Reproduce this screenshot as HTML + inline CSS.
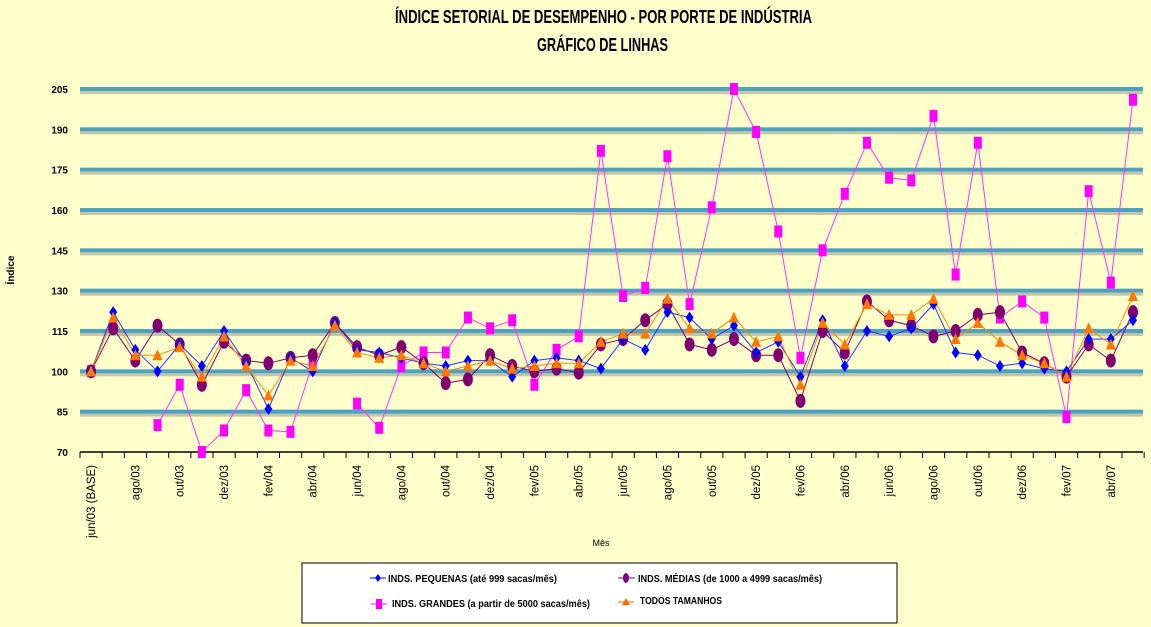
<!DOCTYPE html>
<html><head><meta charset="utf-8"><style>
body{margin:0;background:#FFFFCC;}
svg{display:block}
text{font-family:"Liberation Sans",sans-serif}
</style></head><body>
<svg id="s" width="1151" height="627" xmlns="http://www.w3.org/2000/svg">
<rect width="1151" height="627" fill="#FFFFCC"/>
<text x="395" y="23" font-size="18" font-weight="bold" textLength="417" lengthAdjust="spacingAndGlyphs">ÍNDICE SETORIAL DE DESEMPENHO - POR PORTE DE INDÚSTRIA</text>
<text x="537" y="51" font-size="18" font-weight="bold" textLength="131" lengthAdjust="spacingAndGlyphs">GRÁFICO DE LINHAS</text>
<text transform="translate(14,270) rotate(-90)" text-anchor="middle" font-size="10" font-weight="bold">Índice</text>
<text x="601" y="546" text-anchor="middle" font-size="9">Mês</text>
<g id="g"></g>
<rect x="302" y="563" width="595" height="60" fill="#fff" stroke="#000" stroke-width="1"/>
<line x1="370" y1="578" x2="386" y2="578" stroke="#0000ff"/><path d="M378 574 L381 578 L378 582 L375 578Z" fill="#0000ff"/>
<text x="388" y="582" font-size="10" font-weight="bold" textLength="169" lengthAdjust="spacingAndGlyphs">INDS. PEQUENAS (até 999 sacas/mês)</text>
<line x1="618" y1="578" x2="635" y2="578" stroke="#800080"/><ellipse cx="626" cy="578" rx="3" ry="5" fill="#800080"/>
<text x="638" y="582" font-size="10" font-weight="bold" textLength="184" lengthAdjust="spacingAndGlyphs">INDS. MÉDIAS (de 1000 a 4999 sacas/mês)</text>
<line x1="371" y1="604" x2="387" y2="604" stroke="#ff00ff"/><rect x="376" y="599" width="6" height="10" fill="#ff00ff"/>
<text x="392" y="607" font-size="10" font-weight="bold" textLength="198" lengthAdjust="spacingAndGlyphs">INDS. GRANDES (a partir de 5000 sacas/mês)</text>
<line x1="618" y1="602" x2="634" y2="602" stroke="#ff6600"/><path d="M626 598 L630 605 L622 605Z" fill="#ff6600"/>
<text x="640" y="604" font-size="10" font-weight="bold" textLength="82" lengthAdjust="spacingAndGlyphs">TODOS TAMANHOS</text>
</svg>
<script>
const ns="http://www.w3.org/2000/svg",g=document.getElementById('g');
function el(t,a){const e=document.createElementNS(ns,t);for(const k in a)e.setAttribute(k,a[k]);g.appendChild(e);return e;}
const Y=v=>452-(v-70)*2.689, X=i=>91+i*22.17;
for(let v=85;v<=205;v+=15){const y=Y(v);
 el('rect',{x:80,y:y+2,width:1063,height:3,fill:'#b8b89a',opacity:.8});
 el('rect',{x:80,y:y-2,width:1063,height:4,fill:'#4BA3C3'});}
for(let v=70;v<=205;v+=15){const t=el('text',{x:68,y:Y(v)+4,'text-anchor':'end','font-size':10,'font-weight':'bold'});t.textContent=v;}
el('line',{x1:80,y1:452,x2:1143,y2:452,stroke:'#000','stroke-width':1.5});
for(let i=0;i<=48;i++){const x=80+i*22.17;el('line',{x1:x,y1:452,x2:x,y2:458,stroke:'#000'});}
const mon=['jun','jul','ago','set','out','nov','dez','jan','fev','mar','abr','mai'];
for(let i=0;i<48;i+=2){let m=mon[i%12],yr=String(3+Math.floor((i+5)/12)).padStart(2,'0');
 let s=i==0?'jun/03 (BASE)':m+'/'+yr;const t=el('text',{transform:`translate(${X(i)+4},${465}) rotate(-90)`,'text-anchor':'end','font-size':11.5});t.textContent=s;}
const P=[100,122,108,100,110,102,115,103,86,105,100,118,108,107,105,103,102,104,104,98,104,105,104,101,112,108,122,120,112,117,107,111,98,119,102,115,113,116,125,107,106,102,103,101,100,112,112,119];
const M=[100,116,104,117,110,95,111,104,103,105,106,118,109,106,109,103,95.6,97,106,102,100,101,99.5,110,112,119,125,110,108,112,106,106,89,115,107,126,119,117,113,115,121,122,107,103,98,110,104,122];
const T=[100,120,106,106,109,98,113,102,91,104,102,117,107,105,106,103,100,102,104,101,102,103,103,111,114,114,127,116,114,120,111,113,95,118,110,125,121,121,127,112,118,111,106,103,98,116,110,128];
const G=[100,null,null,80,95,70,78,93,78,77.5,103,null,88,79,102,107,107,120,116,119,95,108,113,182,128,131,180,125,161,205,189,152,105,145,166,185,172,171,195,136,185,120,126,120,83,167,133,201];
function line(d,c){let p='',br=true;d.forEach((v,i)=>{if(v==null){br=true;return;}p+=(br?'M':'L')+X(i).toFixed(1)+' '+Y(v).toFixed(1);br=false;});el('path',{d:p,fill:'none',stroke:c,'stroke-width':1});}
line(G,'#ff33ff');line(M,'#800060');line(P,'#2233ff');line(T,'#ff8800');
G.forEach((v,i)=>{if(v!=null)el('rect',{x:X(i)-4,y:Y(v)-6,width:8,height:12,fill:'#ff00ff'});});
M.forEach((v,i)=>el('ellipse',{cx:X(i),cy:Y(v),rx:5,ry:7,fill:'#800070'}));
P.forEach((v,i)=>{const x=X(i),y=Y(v);el('path',{d:`M${x} ${y-6}L${x+4} ${y}L${x} ${y+6}L${x-4} ${y}Z`,fill:'#0000ff'});});
T.forEach((v,i)=>{const x=X(i),y=Y(v);el('path',{d:`M${x} ${y-6}L${x+5} ${y+5}L${x-5} ${y+5}Z`,fill:'#ff7700'});});
</script>
</body></html>
